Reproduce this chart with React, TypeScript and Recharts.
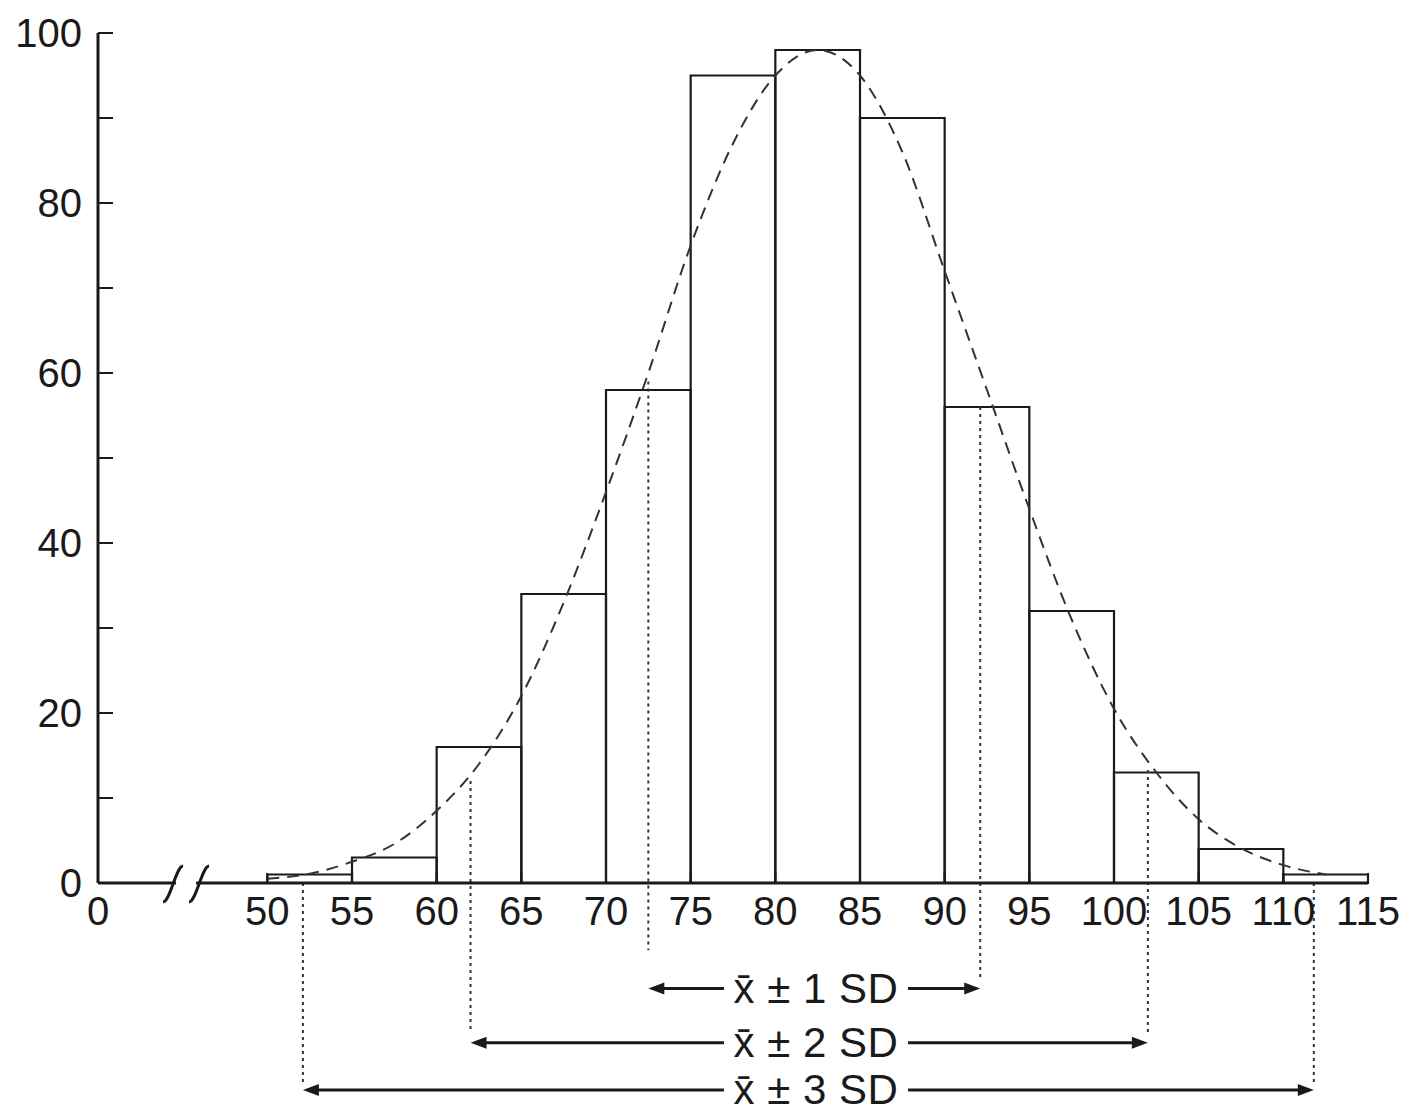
import React from 'react';
import {
  ComposedChart, Line, XAxis, YAxis,
  ReferenceArea, ReferenceLine, ReferenceDot
} from 'recharts';

// histogram bins (lower edge, width 5)
const binStarts = [50, 55, 60, 65, 70, 75, 80, 85, 90, 95, 100, 105, 110];
const binCounts = [1, 3, 16, 34, 58, 95, 98, 90, 56, 32, 13, 4, 1];
const BIN_WIDTH = 5;

// fitted normal curve
const curveX = [50, 52.5, 55, 57.5, 60, 62.5, 65, 67.5, 70, 72.5, 75, 77.5, 80,
  82.5, 85, 87.5, 90, 92.5, 95, 97.5, 100, 102.5, 105, 107.5, 110, 112.5];
const curveY = [0.5, 1.1, 2.5, 4.6, 8.5, 14, 22, 33, 46, 60, 75, 87, 95,
  98, 95, 86, 72, 58, 44, 31, 20.5, 13, 7.5, 4.1, 2.1, 1];

// axis ticks; the x axis is broken, its origin sits at 40 and reads "0"
const xTicks = [40, 50, 55, 60, 65, 70, 75, 80, 85, 90, 95, 100, 105, 110, 115];
const yTicks = [0, 10, 20, 30, 40, 50, 60, 70, 80, 90, 100];
const X_ORIGIN = 40;
const BREAK_AT = 45.2;

// mean +/- n SD markers
const MEAN = 82.4;
const sdMultiples = [1, 2, 3];
const sdLow = [72.5, 62.0, 52.1];
const sdHigh = [92.1, 102.0, 111.8];
const sdLowTop = [59, 12, 0];
const sdHighTop = [56, 13.3, 0];
const sdLowEnd = [-7.9, -17.6, -23.6];
const sdHighEnd = [-11.5, -17.6, -23.4];
const arrowRowY = [-12.4, -18.8, -24.35];

const INK = '#1a1a1a';
const FONT = '"Liberation Sans", Arial, Helvetica, sans-serif';

const curveData = curveX.map((x, i) => ({ x, y: curveY[i] }));

const makeArrowShape = (idx: number) => (props: any) => {
  const { x1, y1, x2 } = props;
  const cx = x1 + ((MEAN - sdLow[idx]) / (sdHigh[idx] - sdLow[idx])) * (x2 - x1);
  const half = 92;
  const head = 16;
  return (
    <g>
      <line x1={x1 + head - 2} y1={y1} x2={cx - half} y2={y1} stroke={INK} strokeWidth={3} />
      <line x1={cx + half} y1={y1} x2={x2 - head + 2} y2={y1} stroke={INK} strokeWidth={3} />
      <polygon points={`${x1},${y1} ${x1 + head},${y1 - 6} ${x1 + head},${y1 + 6}`} fill={INK} />
      <polygon points={`${x2},${y1} ${x2 - head},${y1 - 6} ${x2 - head},${y1 + 6}`} fill={INK} />
      <text x={cx} y={y1} textAnchor="middle" dominantBaseline="central"
        fontSize={42} fontFamily={FONT} fill={INK} letterSpacing={0.5}>
        {`x\u0304 \u00b1 ${sdMultiples[idx]} SD`}
      </text>
    </g>
  );
};

const breakShape = (props: any) => {
  const { cx, cy } = props;
  const slash = (x: number) =>
    `M ${x - 10} ${cy + 19} C ${x - 3} ${cy + 19}, ${x + 3} ${cy - 17}, ${x + 10} ${cy - 17}`;
  return (
    <g>
      <rect x={cx - 10} y={cy - 3} width={20} height={6} fill="#fff" />
      <path d={slash(cx - 13)} stroke={INK} strokeWidth={3} fill="none" />
      <path d={slash(cx + 13)} stroke={INK} strokeWidth={3} fill="none" />
    </g>
  );
};

const App: React.FC = () => {
  const tickStyle = { fontSize: 40, fontFamily: FONT, fill: INK };
  return (
    <div style={{ position: 'absolute', left: 0, top: 0, width: 1402, height: 1115, background: '#fff' }}>
      <ComposedChart
        width={1402}
        height={1115}
        data={curveData}
        margin={{ top: 33, right: 34, bottom: 172, left: 0 }}
      >
        <XAxis
          dataKey="x"
          type="number"
          domain={[X_ORIGIN, 115]}
          ticks={xTicks}
          interval={0}
          tickFormatter={(v: number) => (v === X_ORIGIN ? '0' : String(v))}
          height={60}
          tickSize={-10}
          tickMargin={24}
          tick={tickStyle}
          axisLine={{ stroke: INK, strokeWidth: 3 }}
          tickLine={{ stroke: INK, strokeWidth: 2 }}
        />
        <YAxis
          type="number"
          domain={[0, 100]}
          ticks={yTicks}
          interval={0}
          tickFormatter={(v: number) => (v % 20 === 0 ? String(v) : '')}
          width={98}
          tickSize={-15}
          tickMargin={31}
          tick={tickStyle}
          axisLine={{ stroke: INK, strokeWidth: 3 }}
          tickLine={{ stroke: INK, strokeWidth: 2 }}
        />

        {binStarts.map((lo, i) => (
          <ReferenceArea
            key={`bin-${lo}`}
            x1={lo}
            x2={lo + BIN_WIDTH}
            y1={0}
            y2={binCounts[i]}
            fill="none"
            fillOpacity={0}
            stroke={INK}
            strokeWidth={2.2}
            ifOverflow="visible"
          />
        ))}

        {sdMultiples.map((n, i) => (
          <ReferenceLine
            key={`sdl-${n}`}
            segment={[{ x: sdLow[i], y: sdLowTop[i] }, { x: sdLow[i], y: sdLowEnd[i] }]}
            stroke="#333"
            strokeWidth={2}
            strokeDasharray="3 4"
            ifOverflow="visible"
          />
        ))}
        {sdMultiples.map((n, i) => (
          <ReferenceLine
            key={`sdh-${n}`}
            segment={[{ x: sdHigh[i], y: sdHighTop[i] }, { x: sdHigh[i], y: sdHighEnd[i] }]}
            stroke="#333"
            strokeWidth={2}
            strokeDasharray="3 4"
            ifOverflow="visible"
          />
        ))}
        {sdMultiples.map((n, i) => (
          <ReferenceLine
            key={`arrow-${n}`}
            segment={[{ x: sdLow[i], y: arrowRowY[i] }, { x: sdHigh[i], y: arrowRowY[i] }]}
            ifOverflow="visible"
            shape={makeArrowShape(i)}
          />
        ))}

        <ReferenceDot x={BREAK_AT} y={0} r={0} ifOverflow="visible" shape={breakShape} />

        <Line
          type="monotone"
          dataKey="y"
          stroke="#333"
          strokeWidth={2}
          strokeDasharray="12 8"
          dot={false}
          activeDot={false}
          isAnimationActive={false}
        />
      </ComposedChart>
    </div>
  );
};

export default App;
